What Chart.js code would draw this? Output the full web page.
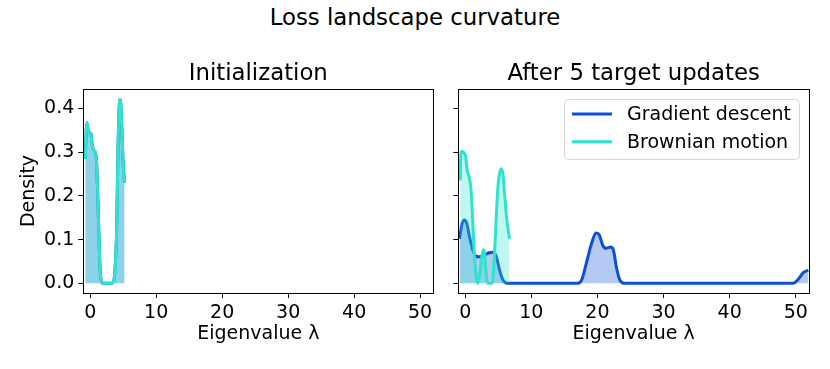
<!DOCTYPE html>
<html lang="en">
<head>
    <meta charset="UTF-8">
    <title>Loss landscape curvature</title>
    <script src="https://cdn.jsdelivr.net/npm/chart.js"></script>
    <style>
        body {
            margin: 0;
            background: #fff;
            font-family: "DejaVu Sans", sans-serif;
        }

        #wrap {
            position: relative;
            width: 830px;
            height: 369px;
        }

        #suptitle {
            position: absolute;
            left: 0;
            width: 830px;
            top: 4px;
            line-height: 27px;
            font-size: 22.8px;
            text-align: center;
            color: #000;
        }

        .panel {
            position: absolute;
            top: 50px;
            height: 319px;
        }
    </style>
</head>
<body>
    <div id="wrap">
        <div id="suptitle">Loss landscape curvature</div>
        <div class="panel" style="left:0;width:440px"><canvas id="left" width="440" height="319"></canvas></div>
        <div class="panel" style="left:440px;width:390px"><canvas id="right" width="390" height="319"></canvas></div>
    </div>

    <script>
        // data
        const seriesNames = ['Gradient descent', 'Brownian motion'];
        const xTicks = [0, 10, 20, 30, 40, 50];
        const yTicks = [0, 0.1, 0.2, 0.3, 0.4];

        // initialization: both methods start from the same spectrum
        const initX = [-0.75, -0.6, -0.5, -0.35, -0.15, 0.1, 0.3, 0.5, 0.75, 0.95, 1.1, 1.3, 1.5, 1.75, 2.0,
            3.2, 3.5, 3.75, 4.0, 4.2, 4.4, 4.55, 4.7, 4.85, 5.0, 5.2];
        const initY = [0.284, 0.35, 0.367, 0.352, 0.345, 0.342, 0.315, 0.305, 0.300, 0.28, 0.22, 0.12, 0.03, 0.003, 0,
            0, 0.003, 0.03, 0.12, 0.3, 0.405, 0.42, 0.39, 0.33, 0.27, 0.23];

        // after 5 target updates
        const gdX = [-0.86, -0.5, -0.1, 0.25, 0.65, 1.15, 1.65, 2.2, 2.9, 3.6, 4.2, 4.7, 5.2, 5.7, 6.4,
            17.0, 17.6, 18.3, 19.1, 19.8, 20.3, 20.8, 21.3, 22.0, 22.4, 22.9, 23.4, 24.1,
            49.6, 50.35, 51.1, 51.9];
        const gdY = [0.102, 0.135, 0.145, 0.136, 0.106, 0.076, 0.062, 0.061, 0.064, 0.07, 0.071, 0.061, 0.03, 0.008, 0,
            0, 0.0075, 0.045, 0.091, 0.115, 0.11, 0.087, 0.08, 0.083, 0.077, 0.034, 0.0075, 0,
            0, 0.009, 0.024, 0.03];

        const bmX = [-0.76, -0.65, -0.45, -0.2, 0.05, 0.25, 0.45, 0.65, 0.9, 1.15, 1.4, 1.6, 1.9, 2.2, 2.5,
            2.75, 2.95, 3.2, 3.45, 3.8, 4.1, 4.4, 4.75, 5.0, 5.25, 5.45, 5.7, 5.95, 6.3, 6.7];
        const bmY = [0.235, 0.298, 0.302, 0.298, 0.292, 0.262, 0.25, 0.239, 0.21, 0.136, 0.06, 0.025, 0.0, 0.02, 0.06,
            0.077, 0.068, 0.015, 0.0, 0.0, 0.002, 0.06, 0.17, 0.23, 0.255, 0.262, 0.25, 0.205, 0.144, 0.102];

        const blue = '#0a50d8';
        const cyan = '#2fe3cc';
        const blueFill = 'rgba(10, 80, 216, 0.3)';
        const cyanFill = 'rgba(47, 227, 204, 0.3)';

        Chart.defaults.font.family = 'DejaVu Sans';
        Chart.defaults.color = '#000';
        Chart.defaults.font.size = 19;

        function pts(xs, ys) {
            return xs.map((x, i) => ({ x: x, y: ys[i] }));
        }

        function series(name, xs, ys, color, fill, order) {
            return {
                label: name,
                data: pts(xs, ys),
                borderColor: color,
                backgroundColor: fill,
                borderWidth: 3,
                pointRadius: 0,
                fill: 'origin',
                cubicInterpolationMode: 'monotone',
                order: order
            };
        }

        // full box round the plot plus the panel title centred over it
        const frame = {
            id: 'frame',
            afterDatasetsDraw(chart, args, opts) {
                const a = chart.chartArea;
                const ctx = chart.ctx;
                ctx.save();
                ctx.strokeStyle = '#000';
                ctx.lineWidth = 1;
                ctx.strokeRect(Math.round(a.left) + 0.5, Math.round(a.top) + 0.5,
                    Math.round(a.right - a.left), Math.round(a.bottom - a.top));
                ctx.fillStyle = '#000';
                ctx.font = '22.8px "DejaVu Sans"';
                ctx.textAlign = 'center';
                ctx.textBaseline = 'middle';
                ctx.fillText(opts.text, (a.left + a.right) / 2, a.top - 15);
                ctx.restore();
            }
        };

        // legend box in the upper right
        const boxLegend = {
            id: 'boxLegend',
            afterDraw(chart) {
                const a = chart.chartArea;
                const ctx = chart.ctx;
                const x0 = a.right - 245, y0 = a.top + 10, w = 235, h = 60;
                ctx.save();
                ctx.fillStyle = 'rgba(255,255,255,0.8)';
                ctx.strokeStyle = '#d6d6d6';
                ctx.lineWidth = 1;
                ctx.beginPath();
                ctx.roundRect(x0 + 0.5, y0 + 0.5, w, h, 4);
                ctx.fill();
                ctx.stroke();
                const colors = [blue, cyan];
                ctx.font = '19px "DejaVu Sans"';
                ctx.textBaseline = 'middle';
                seriesNames.forEach((name, i) => {
                    const y = y0 + 15 + i * 27.7;
                    ctx.strokeStyle = colors[i];
                    ctx.lineWidth = 3;
                    ctx.beginPath();
                    ctx.moveTo(x0 + 8, y);
                    ctx.lineTo(x0 + 48, y);
                    ctx.stroke();
                    ctx.fillStyle = '#000';
                    ctx.fillText(name, x0 + 63, y + 1);
                });
                ctx.restore();
            }
        };

        function options(title, showY, padRight) {
            return {
                responsive: false,
                animation: false,
                layout: { padding: { left: 0, right: padRight, top: 39, bottom: 0 } },
                plugins: {
                    legend: { display: false },
                    tooltip: { enabled: false },
                    title: { display: false },
                    frame: { text: title }
                },
                scales: {
                    x: {
                        type: 'linear',
                        min: -1.05,
                        max: 52,
                        afterBuildTicks: s => { s.ticks = xTicks.map(v => ({ value: v })); },
                        afterFit: s => { s.height = 76; },
                        border: { display: false },
                        grid: { display: true, drawOnChartArea: false, drawTicks: true, tickLength: 5, color: '#000' },
                        ticks: { padding: 4, maxRotation: 0, font: { size: 19 } },
                        title: { display: true, text: 'Eigenvalue λ', font: { size: 19 }, padding: { top: 0, bottom: 24 } }
                    },
                    y: {
                        min: -0.022,
                        max: 0.444,
                        afterBuildTicks: s => { s.ticks = yTicks.map(v => ({ value: v })); },
                        afterFit: s => { s.width = showY ? 83.3 : 18.3; },
                        border: { display: false },
                        grid: { display: true, drawOnChartArea: false, drawTicks: true, tickLength: 5, color: '#000' },
                        ticks: {
                            display: showY,
                            padding: 4,
                            font: { size: 19 },
                            callback: v => v.toFixed(1)
                        },
                        title: { display: showY, text: 'Density', font: { size: 19 }, padding: { top: 18 } }
                    }
                }
            };
        }

        new Chart(document.getElementById('left'), {
            type: 'line',
            data: {
                datasets: [
                    series(seriesNames[0], initX, initY, blue, blueFill, 2),
                    series(seriesNames[1], initX, initY, cyan, cyanFill, 1)
                ]
            },
            options: options('Initialization', true, 6.7),
            plugins: [frame]
        });

        new Chart(document.getElementById('right'), {
            type: 'line',
            data: {
                datasets: [
                    series(seriesNames[0], gdX, gdY, blue, blueFill, 2),
                    series(seriesNames[1], bmX, bmY, cyan, cyanFill, 1)
                ]
            },
            options: options('After 5 target updates', false, 21),
            plugins: [frame, boxLegend]
        });
    </script>
</body>
</html>
